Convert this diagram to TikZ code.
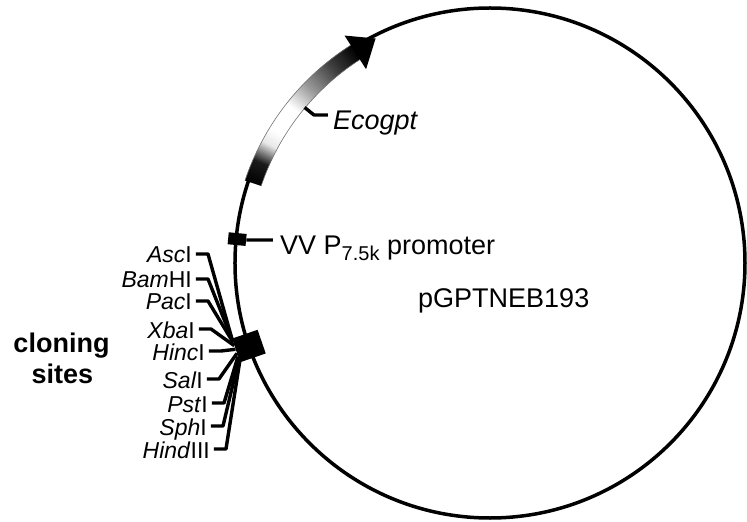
\documentclass[tikz,border=0pt]{standalone}
\usepackage{fontspec}
\setmainfont{Liberation Sans}
\usetikzlibrary{calc}
\begin{document}
\begin{tikzpicture}[x=1pt,y=1pt,
  lab/.style={inner sep=0pt, font=\fontsize{27}{32}\selectfont},
  boldlab/.style={inner sep=0pt, anchor=base, font=\fontsize{27}{32}\selectfont\bfseries},
  enz/.style={inner sep=0pt, anchor=base east, font=\fontsize{23}{27}\selectfont},
  lead/.style={line width=3.4pt, line join=round},
  ring/.style={line width=3.5pt},
  sitebox/.style={fill=black, inner sep=0pt}]
\fill[white] (-490,-259) rectangle (257,263);
\useasboundingbox (-490,-259) rectangle (257,263);
% plasmid circle
\draw[ring] (0,0) circle (255);
% Ecogpt band with gradient
\foreach \a in {161.4,161.15,...,122.6}{
  \pgfmathtruncatemacro\p{max(0,min(100,
    (\a>156.5) ? (100-10*(161.4-\a)/4.9) :
    ((\a>152) ? (90-80*(156.5-\a)/4.5) :
    ((\a>148.5) ? (10-10*(152-\a)/3.5) :
    ((\a>142) ? 0 :
    ((\a>136) ? (40*(142-\a)/6) :
    ((\a>129) ? (40+35*(136-\a)/7) : (75+25*(129-\a)/6.5))))))))}
  \draw[line width=17pt, black!\p] (\a:250) arc[start angle=\a, end angle=\a-0.4, radius=250];
}
\fill[black] (122.6:230) -- (117:252) -- (122.6:270) -- cycle;
\draw[line width=0.6pt, black!55] (161.4:241.5) arc[start angle=161.4, end angle=122.6, radius=241.5]
  (122.6:258.5) arc[start angle=122.6, end angle=161.4, radius=258.5];
% Ecogpt label
\node[lab, anchor=base west] (eco) at (-157,133) {\textit{Ecogpt}};
\coordinate (ecoA) at (140:242);
\draw[lead] (ecoA) -- ($(eco.base west)+(-19,15)$) -- ($(eco.base west)+(-5,15)$);
% promoter
\node[sitebox, rotate=-5.4, minimum width=18pt, minimum height=12pt] (prom) at (174.6:254) {};
\node[lab, anchor=base west] (vv) at (-210,8) {VV P\raisebox{-6pt}{\fontsize{20}{20}\selectfont 7.5k} promoter};
\draw[lead] (prom.east) -- ($(vv.base west)+(-7,15)$);
% name
\node[lab, anchor=base west] (pg) at (-72,-45) {pGPTNEB193};
% cloning sites
\node[sitebox, rotate=19, minimum width=27pt, minimum height=25pt] (cs) at (199:255) {};
\node[boldlab] (clo) at (-428.5,-89) {cloning};
\node[boldlab] (sit) at (-427.5,-120) {sites};
\foreach \n/\t/\x/\y/\f in {
 asc/{\textit{Asc}I}/-298/0/0.04,
 bam/{\textit{Bam}HI}/-298/-25/0.1,
 pac/{\textit{Pac}I}/-298/-47/0.17,
 xba/{\textit{Xba}I}/-295/-75/0.3,
 hinc/{\textit{Hinc}I}/-285/-97/0.45,
 sal/{\textit{Sal}I}/-287/-125/0.62,
 pst/{\textit{Pst}I}/-282/-149/0.75,
 sph/{\textit{Sph}I}/-283/-172/0.86,
 hind/{\textit{Hind}III}/-280/-195/0.96}{
  \node[enz] (\n) at (\x,\y) {\t};
  \draw[lead] ($(\n.base east)+(4,9)$) -- ++(12,0) -- ($(cs.north west)!\f!(cs.south west)$);
}
\end{tikzpicture}
\end{document}
